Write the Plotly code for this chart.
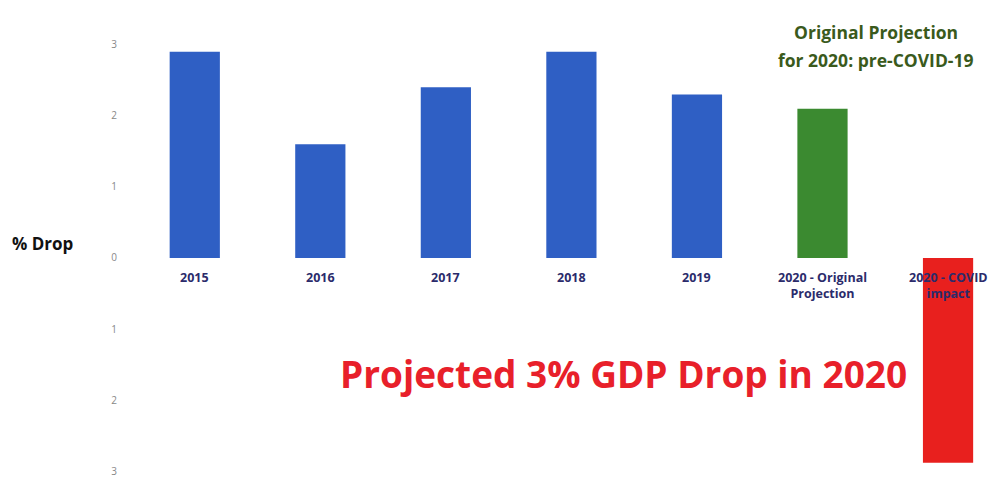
import plotly.graph_objects as go

categories = ["2015", "2016", "2017", "2018", "2019", "2020 - Original<br>Projection", "2020 - COVID<br>impact"]
values = [2.9, 1.6, 2.4, 2.9, 2.3, 2.1, -2.88]
bar_colors = ["#2f5fc4", "#2f5fc4", "#2f5fc4", "#2f5fc4", "#2f5fc4", "#3b8a30", "#e8201e"]
tick_vals = [3, 2, 1, 0, -1, -2, -3]
tick_text = ["3", "2", "1", "0", "1", "2", "3"]

W, H = 997, 477
ML, MT = 132, 2


def px(x, y):
    return (x - ML) / (W - ML), 1 - (y - MT) / (H - MT)


fig = go.Figure()
fig.add_trace(go.Bar(
    x=categories, y=values, marker=dict(color=bar_colors, line=dict(width=0)),
    width=0.4, showlegend=False,
))

for i, c in enumerate(categories):
    fig.add_annotation(
        x=i, y=0, xref="x", yref="y", text=f"<b>{c}</b>", showarrow=False,
        yanchor="top", yshift=-9, align="center",
        font=dict(family="Open Sans", size=12.5, color="#2b2b6b"),
    )

x, y = px(10, 243)
fig.add_annotation(x=x, y=y, xref="paper", yref="paper", text="<b>% Drop</b>",
                   showarrow=False, xanchor="left", yanchor="middle",
                   font=dict(family="Open Sans", size=17, color="#111111"))
for txt, yy in [("Original Projection", 32), ("for 2020: pre-COVID-19", 60)]:
    x, y = px(876, yy)
    fig.add_annotation(x=x, y=y, xref="paper", yref="paper",
                       text=f"<b>{txt}</b>",
                       showarrow=False, xanchor="center", yanchor="middle",
                       font=dict(family="Open Sans", size=17.5, color="#3a5a1c"))
x, y = px(623, 373)
fig.add_annotation(x=x, y=y, xref="paper", yref="paper",
                   text="<b>Projected 3% GDP Drop in 2020</b>",
                   showarrow=False, xanchor="center", yanchor="middle",
                   font=dict(family="Open Sans", size=37, color="#e8202a"))

fig.update_layout(
    width=W, height=H,
    margin=dict(l=ML, r=0, t=MT, b=0, autoexpand=False),
    paper_bgcolor="white", plot_bgcolor="white",
    xaxis=dict(type="category", range=[-0.5, 6.39], showticklabels=False, showgrid=False,
               zeroline=False, showline=False, ticks="", automargin=False),
    yaxis=dict(range=[-3.08, 3.6], tickvals=tick_vals, ticktext=tick_text,
               showgrid=False, zeroline=False, showline=False, automargin=False,
               tickfont=dict(family="Open Sans", size=10, color="#888888"),
               ticklabelstandoff=14, ticklabeloverflow="allow"),
)

fig.write_html("out.html")
